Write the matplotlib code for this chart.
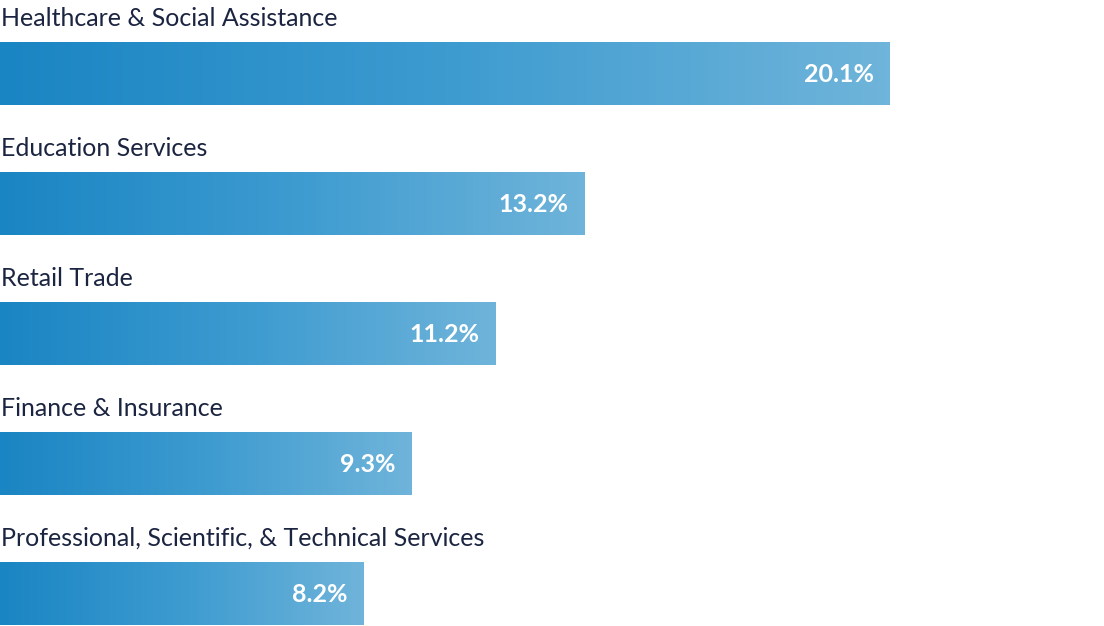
import numpy as np
import matplotlib
matplotlib.use("Agg")
import matplotlib.pyplot as plt
from matplotlib.colors import LinearSegmentedColormap

categories = ["Healthcare & Social Assistance", "Education Services", "Retail Trade",
              "Finance & Insurance", "Professional, Scientific, & Technical Services"]
values = [20.1, 13.2, 11.2, 9.3, 8.2]
labels = ["20.1%", "13.2%", "11.2%", "9.3%", "8.2%"]

W, H = 1104, 626
fig = plt.figure(figsize=(W/100, H/100), dpi=100)
ax = fig.add_axes([0, 0, 1, 1])
scale = 890/20.1
ax.set_xlim(0, W/scale)
ax.set_ylim(H, 0)
ax.axis("off")

cmap = LinearSegmentedColormap.from_list("g", ["#1a85c3", "#3d9bd0", "#6fb4da"])
grad = np.linspace(0, 1, 256).reshape(1, -1)
for i, (c, v, l) in enumerate(zip(categories, values, labels)):
    top = 42 + 130*i
    ax.imshow(grad, cmap=cmap, aspect="auto", extent=(0, v, top+63, top), interpolation="bicubic")
    ax.text(0.02, top-24, c, fontsize=18, family="Lato", color="#1b2440", va="center", ha="left")
    ax.text(v - 16/scale, top+32, l, fontsize=18, family="Lato", fontweight="bold",
            color="white", va="center", ha="right")
ax.set_xlim(0, W/scale)
ax.set_ylim(H, 0)
fig.savefig("out.png", dpi=100)
